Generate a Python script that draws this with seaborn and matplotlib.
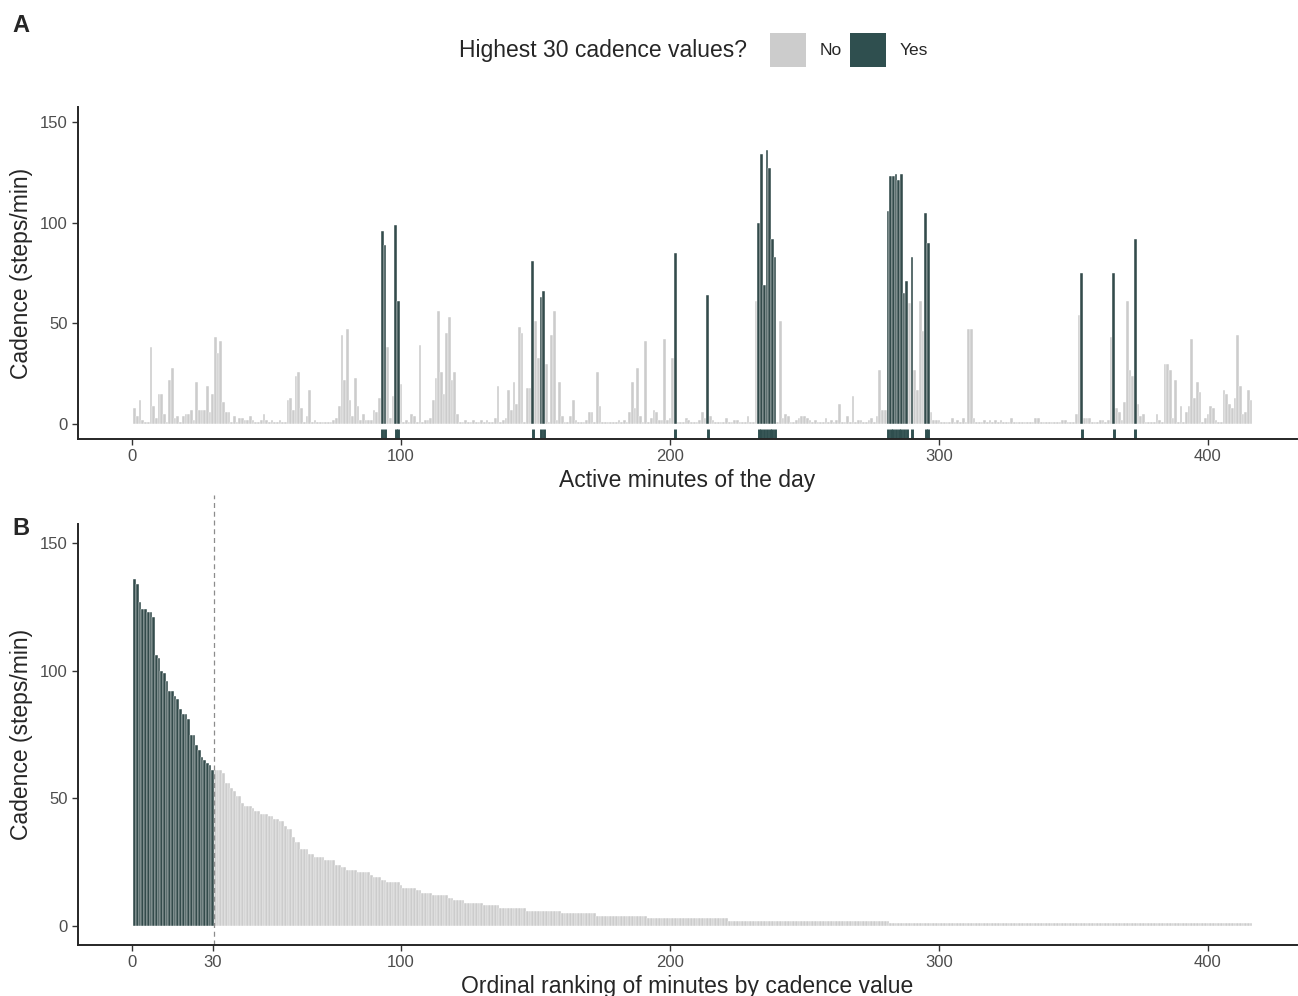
import numpy as np
import pandas as pd
import matplotlib
matplotlib.use("Agg")
import matplotlib.pyplot as plt
import seaborn as sns
from matplotlib.patches import Patch

# cadence (steps/min) for each active minute of the day
cadence = [
    8, 4, 12, 2, 1, 1, 38, 9, 3, 15,
    15, 5, 1, 22, 28, 3, 4, 1, 4, 5,
    5, 7, 2, 21, 7, 7, 7, 19, 6, 15,
    43, 35, 41, 11, 6, 6, 1, 4, 1, 3,
    3, 2, 2, 4, 2, 1, 1, 2, 5, 2,
    1, 2, 1, 1, 2, 1, 1, 12, 13, 7,
    24, 26, 8, 1, 4, 17, 1, 2, 1, 1,
    1, 1, 1, 1, 2, 3, 9, 44, 22, 47,
    12, 4, 23, 9, 2, 5, 2, 2, 2, 7,
    6, 13, 96, 89, 38, 3, 14, 99, 61, 20,
    1, 2, 1, 5, 4, 1, 39, 1, 2, 2,
    3, 12, 23, 56, 26, 15, 45, 53, 22, 26,
    5, 1, 1, 2, 1, 1, 2, 1, 1, 2,
    1, 2, 1, 1, 3, 19, 1, 2, 3, 17,
    7, 21, 10, 48, 45, 1, 18, 18, 81, 51,
    33, 63, 66, 30, 1, 44, 56, 2, 21, 4,
    1, 1, 4, 12, 2, 1, 1, 1, 2, 6,
    6, 1, 26, 9, 1, 1, 1, 1, 1, 1,
    2, 1, 2, 1, 6, 21, 8, 28, 4, 1,
    41, 1, 3, 7, 6, 2, 2, 42, 2, 3,
    33, 85, 1, 1, 1, 3, 2, 1, 1, 1,
    2, 6, 3, 64, 4, 2, 1, 1, 1, 1,
    3, 1, 1, 2, 2, 1, 1, 1, 4, 1,
    1, 61, 100, 134, 69, 136, 127, 92, 83, 1,
    51, 3, 5, 4, 1, 1, 2, 3, 4, 4,
    3, 2, 1, 2, 1, 1, 1, 3, 1, 2,
    1, 2, 10, 1, 1, 4, 1, 14, 1, 2,
    2, 1, 1, 2, 3, 1, 4, 27, 7, 7,
    106, 123, 123, 124, 121, 124, 65, 71, 60, 83,
    27, 17, 61, 46, 105, 90, 6, 2, 2, 2,
    1, 1, 1, 1, 3, 1, 2, 1, 3, 1,
    47, 47, 3, 1, 1, 1, 2, 1, 2, 1,
    2, 1, 2, 1, 1, 1, 3, 1, 1, 1,
    1, 1, 1, 1, 1, 3, 3, 1, 1, 1,
    1, 1, 1, 1, 1, 2, 2, 1, 1, 1,
    5, 54, 75, 3, 3, 3, 1, 1, 1, 2,
    2, 1, 2, 43, 75, 8, 6, 2, 11, 61,
    27, 24, 92, 10, 4, 5, 1, 1, 1, 1,
    5, 2, 1, 30, 30, 27, 3, 22, 1, 9,
    1, 6, 9, 42, 13, 21, 16, 1, 3, 5,
    9, 8, 2, 1, 1, 17, 15, 10, 8, 13,
    44, 19, 5, 6, 17, 12,
]
top_n = 30
legend_title = "Highest 30 cadence values?"
group_labels = ["No", "Yes"]
group_colors = ["#CCCCCC", "#2F4F4F"]
xticks_a = [0, 100, 200, 300, 400]
xticks_b = [0, 30, 100, 200, 300, 400]
yticks = [0, 50, 100, 150]
ylabel = "Cadence (steps/min)"
xlabel_a = "Active minutes of the day"
xlabel_b = "Ordinal ranking of minutes by cadence value"

palette = dict(zip(group_labels, group_colors))

df = pd.DataFrame({"minute": np.arange(1, len(cadence) + 1), "cadence": cadence})
df["rank"] = df["cadence"].rank(method="first", ascending=False).astype(int)
df["top"] = np.where(df["rank"] <= top_n, "Yes", "No")
ranked = df.sort_values("rank")

sns.set_style("ticks")
plt.rcParams["font.family"] = ["Liberation Sans", "DejaVu Sans"]

W, H = 1298, 996
fig = plt.figure(figsize=(W / 100, H / 100), dpi=100)
ax_a = fig.add_axes([78 / W, 1 - 439 / H, 1219 / W, 332 / H])
ax_b = fig.add_axes([78 / W, 1 - 945 / H, 1219 / W, 421 / H])

# Panel A: cadence per active minute
sns.barplot(data=df, x="minute", y="cadence", hue="top", hue_order=group_labels,
            palette=palette, native_scale=True, dodge=False, width=1.0,
            errorbar=None, edgecolor="white", linewidth=0.3, legend=False, ax=ax_a)
sns.rugplot(x=df.loc[df["top"] == "Yes", "minute"], ax=ax_a, height=0.03,
            color=group_colors[1], linewidth=2.1, expand_margins=False)
ax_a.set_xlim(-20.1, 433.1)
ax_a.set_ylim(-7.5, 157.5)
ax_a.set_xticks(xticks_a)
ax_a.set_yticks(yticks)
ax_a.set_xlabel(xlabel_a, fontsize=16.5, labelpad=3)
ax_a.set_ylabel(ylabel, fontsize=16.5, labelpad=5)

# Panel B: minutes ordered by cadence
sns.barplot(x=ranked["rank"].values, y=ranked["cadence"].values, hue=ranked["top"].values,
            hue_order=group_labels, palette=palette, native_scale=True, dodge=False,
            width=1.0, errorbar=None, edgecolor="white", linewidth=0.3, legend=False, ax=ax_b)
ax_b.axvline(top_n + 0.5, ymax=1.07, color="#8C8C8C", lw=0.9, ls=(0, (4, 3)), clip_on=False)
ax_b.set_xlim(-20.1, 433.1)
ax_b.set_ylim(-7.5, 157.5)
ax_b.set_xticks(xticks_b)
ax_b.set_yticks(yticks)
ax_b.set_xlabel(xlabel_b, fontsize=16.5, labelpad=3)
ax_b.set_ylabel(ylabel, fontsize=16.5, labelpad=5)

for ax in (ax_a, ax_b):
    sns.despine(ax=ax)
    ax.spines["left"].set_linewidth(1.4)
    ax.spines["bottom"].set_linewidth(1.4)
    ax.tick_params(labelsize=12, labelcolor="#4D4D4D", color="#333333", length=4, width=1)

fig.text(12 / W, 1 - 25 / H, "A", fontsize=17, fontweight="bold", va="center")
fig.text(12 / W, 1 - 528 / H, "B", fontsize=17, fontweight="bold", va="center")

handles = [Patch(facecolor=c, edgecolor="none") for c in group_colors]
fig.text(459 / W, 1 - 50 / H, legend_title, fontsize=16.5, ha="left", va="center")
fig.legend(handles, group_labels, ncol=2, loc="center left",
           bbox_to_anchor=(770 / W, 1 - 50 / H), frameon=False, fontsize=12.5,
           handlelength=2.07, handleheight=2.65, handletextpad=0.8,
           columnspacing=0.45, borderpad=0, borderaxespad=0)

fig.savefig("out.png", dpi=100)
